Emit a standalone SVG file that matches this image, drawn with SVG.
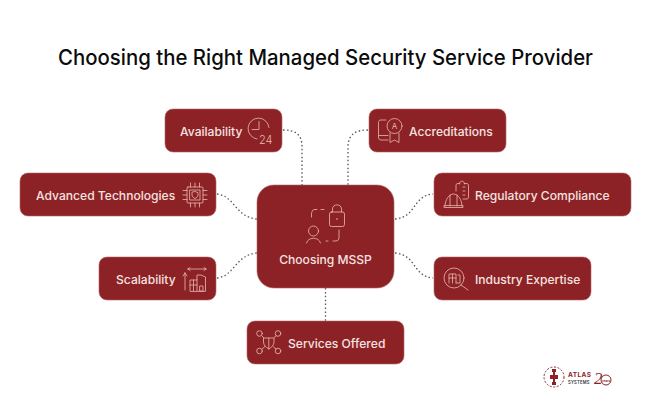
<svg xmlns="http://www.w3.org/2000/svg" width="651" height="406" viewBox="0 0 651 406">
<style>
.box{fill:#8c2226;stroke:#b5666a;stroke-width:.6}
.t{font-family:Inter,"Liberation Sans",sans-serif;font-size:12.1px;font-weight:500;fill:#f6e3e0}
.ic{fill:none;stroke:#e8b9b2;stroke-width:.8;stroke-linecap:round;stroke-linejoin:round}
.c{fill:none;stroke:#555;stroke-width:1.3;stroke-dasharray:1.5 2.4}
.title{font-family:Inter,"Liberation Sans",sans-serif;font-size:21px;font-weight:500;fill:#0b0b0b}
</style>
<rect width="651" height="406" fill="#fff"/>
<text class="title" x="325.500" y="65" text-anchor="middle" textLength="535" lengthAdjust="spacingAndGlyphs">Choosing the Right Managed Security Service Provider</text>
<g id="connectors">
<path class="c" d="M283 130C295 130 302 134 302 147V185"/>
<path class="c" d="M217 194C235 196 235 217 257 219"/>
<path class="c" d="M217 278C235 276 235 255 257 253"/>
<path class="c" d="M368 130C356 130 348 134 348 147V185"/>
<path class="c" d="M395 219C417 217 412 196 433 194"/>
<path class="c" d="M395 253C417 255 412 276 433 278"/>
<path class="c" d="M325.500 288V321"/>
</g>
<g id="node-availability">
<rect class="box" x="165" y="109" width="117" height="43" rx="8"/>
<text class="t" x="180" y="135.500">Availability</text>
<path class="ic" d="M257 139A10.500 10.500 0 1 1 269 127.500M259 121.500V129.500H252"/>
<text x="259" y="143.500" style="font-family:Inter,'Liberation Sans',sans-serif;font-size:11px;font-weight:300;fill:#e8b9b2">24</text>
</g>
<g id="node-advanced">
<rect class="box" x="20" y="173" width="196" height="43" rx="8"/>
<text class="t" x="36" y="200">Advanced Technologies</text>
<rect class="ic" x="187" y="187" width="16" height="16" rx="1"/>
<rect class="ic" x="190" y="190" width="10" height="10"/>
<path class="ic" d="M190.500 187V183M195 187V183M199.500 187V183M190.500 207V203M195 207V203M199.500 207V203M183 190.500H187M183 195H187M183 199.500H187M203 190.500H207M203 195H207M203 199.500H207"/>
<path class="ic" d="M195 191.500L198 192.600V195C198 196.800 196.500 197.800 195 198.500C193.500 197.800 192 196.800 192 195V192.600Z"/>
</g>
<g id="node-scalability">
<rect class="box" x="99" y="257" width="117" height="43" rx="8"/>
<text class="t" x="116" y="283.500">Scalability</text>
<path class="ic" d="M188 269H206M188 269L190 267.500M188 269L190 270.500M206 269L204 267.500M206 269L204 270.500"/>
<path class="ic" d="M185 290V273M185 273L183 276M185 273L187 276"/>
<path class="ic" d="M190 291V280H197V275H201L205.500 277V291ZM190 285H197M193.500 280V291M197 280V291M200 286H203V291H200Z"/>
</g>
<g id="node-center">
<rect class="box" x="257" y="185" width="137" height="103" rx="17"/>
<text class="t" x="325.500" y="264" text-anchor="middle">Choosing MSSP</text>
<path class="ic" d="M311.500 217V213M312 212C312 210.500 313 209.500 315 209.500H317M321 209.500H324"/>
<path class="ic" d="M339 230V237C339 240 338 241 335 241H333M328 241H326"/>
<rect class="ic" x="329.500" y="212" width="15" height="14.500" rx="2"/>
<path class="ic" d="M332.500 212V209C332.500 203.500 341.500 203.500 341.500 209V212"/>
<circle cx="337" cy="219" r=".8" fill="#e8b9b2"/>
<circle class="ic" cx="313.500" cy="231" r="5"/>
<path class="ic" d="M306.500 243C308 236.500 319 236.500 320.500 243"/>
</g>
<g id="node-accreditations">
<rect class="box" x="369" y="109" width="137" height="43" rx="8"/>
<text class="t" x="409" y="135.500">Accreditations</text>
<path class="ic" d="M386 120H381C379 120 378.500 121 378.500 122.500V137C378.500 139 379.500 140 381 140H388M379 135.500H388"/>
<circle class="ic" cx="394.500" cy="126" r="7.500"/>
<path class="ic" d="M390 133V142.500L394.500 140L399 142.500V133"/>
<text x="394.500" y="129" text-anchor="middle" style="font-family:Inter,'Liberation Sans',sans-serif;font-size:8px;fill:#e8b9b2">A</text>
</g>
<g id="node-regulatory">
<rect class="box" x="434" y="173" width="197" height="43" rx="8"/>
<text class="t" x="475" y="200">Regulatory Compliance</text>
<path class="ic" d="M444 206V207.500H463V206ZM445 206C445 200 449 194 453.500 194C458 194 462 200 462 206M450 206V195M457 206V195"/>
<path class="ic" d="M456 191V186C456 184 456.500 183.500 458 183.500H459.500M464.500 183.500H466C468 183.500 468.500 184 468.500 186V197C468.500 198.500 468 199 466 199H463M459.500 184C459.500 180 464.500 180 464.500 184M463 187H465M463 191H465M463 195H465"/>
</g>
<g id="node-industry">
<rect class="box" x="434" y="257" width="157" height="43" rx="8"/>
<text class="t" x="475" y="284">Industry Expertise</text>
<circle class="ic" cx="454" cy="278" r="10"/>
<path class="ic" d="M461 285L468 290M449 283V274H456V283M456 283H460V275H458M449 278H456M452.500 274V283"/>
</g>
<g id="node-services">
<rect class="box" x="247" y="321" width="157" height="43" rx="8"/>
<text class="t" x="288" y="347.500">Services Offered</text>
<circle class="ic" cx="259.500" cy="333.500" r="2.800"/>
<circle class="ic" cx="278" cy="333.500" r="2.800"/>
<circle class="ic" cx="259.500" cy="351" r="2.800"/>
<circle class="ic" cx="278" cy="351" r="2.800"/>
<path class="ic" d="M262 336L264 338H273.500L276 336M262 349L265 346.500M273 346.500L276 349"/>
<path class="ic" d="M263.500 338V342C263.500 345 266 347.500 268.800 349C271.500 347.500 274 345 274 342V338M268.800 338V349"/>
</g>
<g id="logo">
<circle cx="554" cy="377" r="10" fill="none" stroke="#8c2226" stroke-width="1" stroke-dasharray="2 1.600"/>
<path d="M552 369H556V372H555V375H558V379H555V382H556V385H552V382H553V379H550V375H553V372H552Z" fill="#8c2226"/>
<text x="568" y="377" style="font-family:Inter,'Liberation Sans',sans-serif;font-size:6.500px;font-weight:700;letter-spacing:.4px;fill:#8c2226">ATLAS</text>
<text x="568" y="383.500" style="font-family:Inter,'Liberation Sans',sans-serif;font-size:4.200px;font-weight:600;letter-spacing:.2px;fill:#333">SYSTEMS</text>
<text x="594" y="384" style="font-family:'Liberation Serif',serif;font-size:17px;font-style:italic;fill:#8c2226">2</text>
<circle cx="606" cy="380" r="5" fill="none" stroke="#8c2226" stroke-width="1"/>
<text x="606" y="381.500" text-anchor="middle" style="font-family:Inter,'Liberation Sans',sans-serif;font-size:3px;font-weight:700;fill:#8c2226">years</text>
</g>
</svg>
